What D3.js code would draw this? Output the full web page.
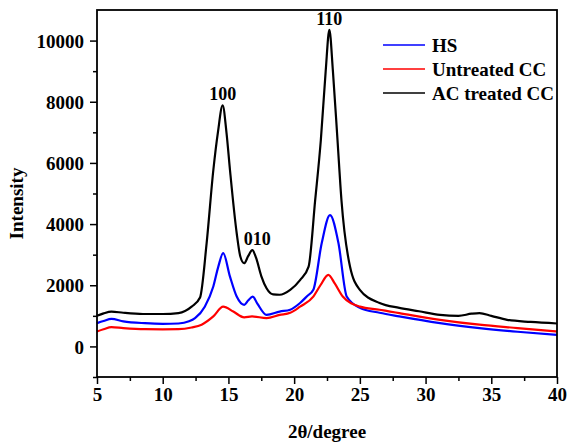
<!DOCTYPE html>
<html><head><meta charset="UTF-8">
  <title>XRD patterns</title>
  <script src="https://d3js.org/d3.v7.min.js"></script>
  <style>
    body { margin: 0; background: #fff; }
    text { font-family: "Liberation Serif", "Times New Roman", serif; font-weight: bold; }
  </style>
</head>
<body>
  <svg width="567" height="447"></svg>
  <script>
    // 2theta positions (degree) and intensities
    const hsX = [5, 5.5, 6.1, 7, 8.65, 10, 11.2, 12, 12.46, 13.2, 13.85, 14.23, 14.6, 15.12, 15.63, 16.2, 16.5, 16.85, 17.2, 17.9, 18.9, 19.7, 20.45, 21, 21.46, 22.1, 22.73, 23.37, 24, 25, 26.5, 28, 31.1, 34.1, 37, 40];
    const hsY = [760, 830, 900, 820, 760, 740, 750, 820, 925, 1300, 1960, 2610, 3050, 2280, 1630, 1360, 1500, 1630, 1400, 1030, 1140, 1200, 1420, 1650, 1850, 3380, 4290, 3380, 1630, 1260, 1100, 980, 760, 600, 480, 380];

    const untreatedX = [5, 5.5, 6.1, 7, 8.65, 10, 11.2, 12.2, 12.96, 13.85, 14.6, 15.37, 16.2, 16.8, 17.9, 18.9, 19.7, 20.45, 21.46, 22, 22.6, 23.1, 23.7, 25, 26.5, 27.3, 28, 31.1, 34.1, 37, 40];
    const untreatedY = [490, 560, 630, 600, 565, 560, 565, 620, 710, 980, 1300, 1140, 950, 980, 925, 1030, 1100, 1300, 1630, 2000, 2340, 2050, 1630, 1300, 1200, 1140, 1090, 870, 710, 600, 490];

    const acX = [5, 5.5, 6.1, 7, 8.5, 10, 11.2, 12.2, 12.84, 13.34, 13.85, 14.2, 14.56, 14.85, 15.12, 15.63, 15.9, 16.2, 16.5, 16.82, 17.1, 17.5, 17.9, 18.4, 18.9, 19.7, 20.45, 21.1, 21.6, 22.03, 22.4, 22.68, 22.95, 23.3, 23.6, 24.25, 25, 26.5, 28, 29.5, 31.1, 32.5, 33.5, 34.1, 35, 36.2, 38, 40];
    const acY = [1000, 1080, 1140, 1100, 1060, 1060, 1090, 1300, 1600, 3370, 5760, 7000, 7880, 7000, 5760, 3700, 2950, 2720, 2950, 3150, 2900, 2300, 1900, 1700, 1690, 1850, 2170, 2610, 4780, 6740, 9000, 10350, 9000, 6740, 4780, 2610, 1850, 1420, 1260, 1150, 1030, 1000, 1070, 1090, 1000, 870, 800, 750];

    const seriesNames = ["HS", "Untreated CC", "AC treated CC"];
    const seriesColors = ["#0000ff", "#ff0000", "#000000"];

    const peakLabels = ["100", "010", "110"];
    const peakX = [14.56, 16.82, 22.68];
    const peakY = [7880, 3150, 10350];

    const xTicks = [5, 10, 15, 20, 25, 30, 35, 40];
    const yTicks = [0, 2000, 4000, 6000, 8000, 10000];

    const series = seriesNames.map((name, i) => {
      const xs = [hsX, untreatedX, acX][i], ys = [hsY, untreatedY, acY][i];
      return { name: name, color: seriesColors[i], values: xs.map((x, j) => ({ x: x, y: ys[j] })) };
    });

    const margin = {top: 10, right: 10, bottom: 70, left: 97},
          width = 567 - margin.left - margin.right,
          height = 447 - margin.top - margin.bottom;

    const svg = d3.select("svg")
      .append("g")
        .attr("transform", "translate(" + margin.left + "," + margin.top + ")");

    const x = d3.scaleLinear().domain([5, 40]).range([0, width]);
    const y = d3.scaleLinear().domain([-1000, 11000]).range([height, 0]);

    // minor ticks
    svg.append("g")
      .attr("transform", "translate(0," + height + ")")
      .call(d3.axisBottom(x).tickValues(d3.range(7.5, 40, 5)).tickSize(4).tickFormat(""));
    svg.append("g")
      .call(d3.axisLeft(y).tickValues(d3.range(-1000, 11000, 2000)).tickSize(4).tickFormat(""));

    // major ticks
    const xAxis = svg.append("g")
      .attr("transform", "translate(0," + height + ")")
      .call(d3.axisBottom(x).tickValues(xTicks).tickSize(7).tickPadding(4).tickFormat(d3.format("d")));
    const yAxis = svg.append("g")
      .call(d3.axisLeft(y).tickValues(yTicks).tickSize(7).tickPadding(6).tickFormat(d3.format("d")));

    svg.selectAll(".tick line").attr("stroke-width", 1.5);
    xAxis.selectAll("text").attr("font-size", 19).attr("fill", "#000");
    yAxis.selectAll("text").attr("font-size", 19).attr("fill", "#000").attr("dy", "0.35em");
    svg.selectAll(".domain").remove();

    // lines
    const line = d3.line()
      .x(d => x(d.x))
      .y(d => y(d.y))
      .curve(d3.curveMonotoneX);

    svg.selectAll(".series")
      .data(series)
      .join("path")
        .attr("class", "series")
        .attr("fill", "none")
        .attr("stroke", d => d.color)
        .attr("stroke-width", 2.2)
        .attr("d", d => line(d.values));

    // frame
    svg.append("rect")
      .attr("width", width)
      .attr("height", height)
      .attr("fill", "none")
      .attr("stroke", "#000")
      .attr("stroke-width", 1.8);

    // peak labels
    svg.selectAll(".peak")
      .data(peakLabels)
      .join("text")
        .attr("class", "peak")
        .attr("x", (d, i) => x(peakX[i]) + (i === 1 ? 5 : 0))
        .attr("y", (d, i) => y(peakY[i]) - 5)
        .attr("text-anchor", "middle")
        .attr("font-size", 18)
        .text(d => d);

    // legend
    const legend = svg.append("g").attr("transform", "translate(286,35)");
    legend.selectAll("line")
      .data(series)
      .join("line")
        .attr("x1", 0).attr("x2", 42)
        .attr("y1", (d, i) => i * 24).attr("y2", (d, i) => i * 24)
        .attr("stroke", d => d.color)
        .attr("stroke-width", 1.5);
    legend.selectAll("text")
      .data(series)
      .join("text")
        .attr("x", 49)
        .attr("y", (d, i) => i * 24)
        .attr("dy", "0.35em")
        .attr("font-size", 19)
        .text(d => d.name);

    // axis titles
    svg.append("text")
      .attr("x", width / 2)
      .attr("y", height + 61)
      .attr("text-anchor", "middle")
      .attr("font-size", 19)
      .text("2θ/degree");

    svg.append("text")
      .attr("transform", "translate(" + (-74) + "," + (y(5000) + 10) + ") rotate(-90)")
      .attr("text-anchor", "middle")
      .attr("font-size", 19)
      .text("Intensity");
  </script>
</body></html>
